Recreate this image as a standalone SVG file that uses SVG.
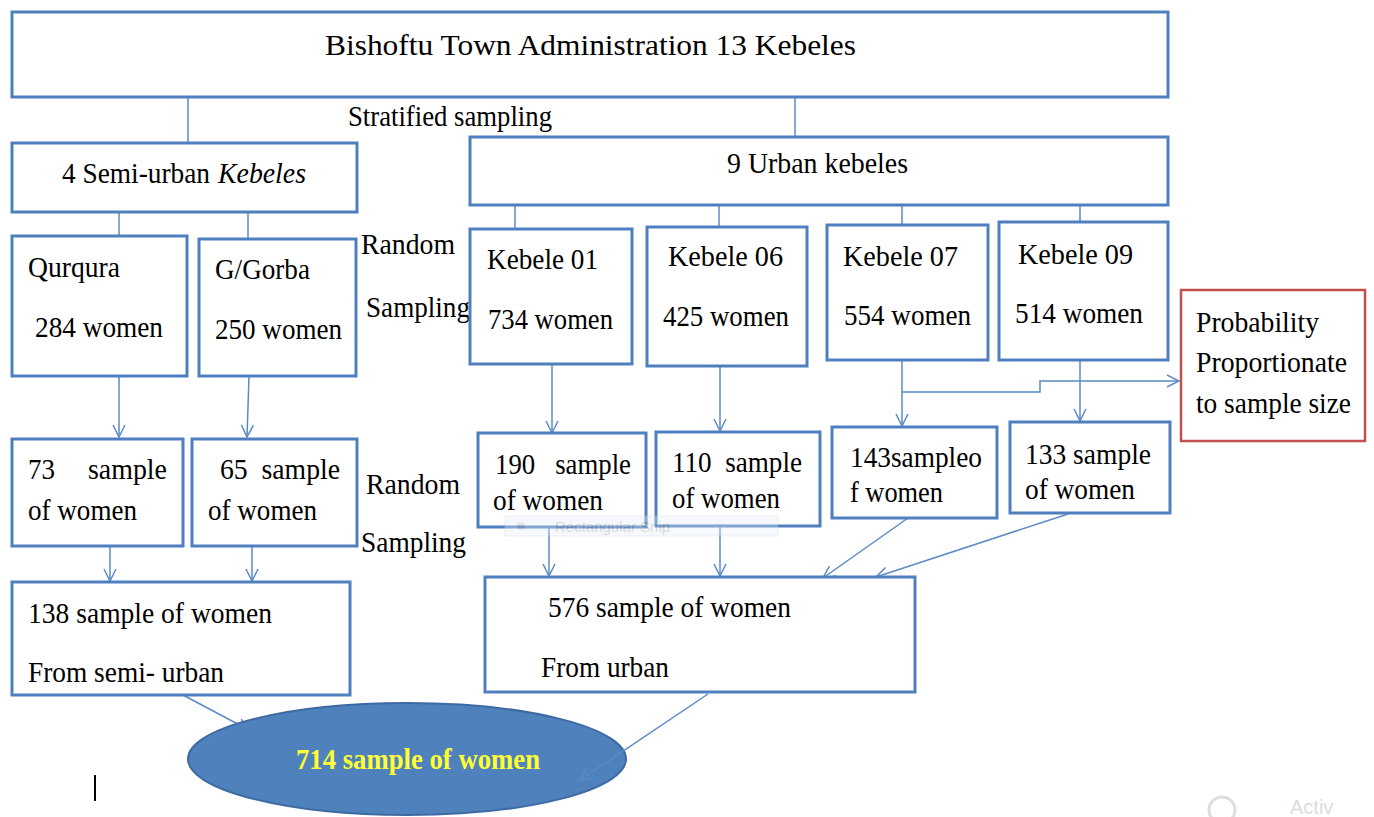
<svg xmlns="http://www.w3.org/2000/svg" width="1374" height="817" viewBox="0 0 1374 817">
<style>
.box{fill:#fff;stroke:#4f7fbf;stroke-width:3}
.red{fill:#fff;stroke:#c0504d;stroke-width:2.5}
.t{font-family:"Liberation Serif","Times New Roman",serif;font-size:30px;fill:#000}
.c{fill:none;stroke:#5b8ac6;stroke-width:1.5}
.el{fill:#4f81bd;stroke:#3d6aa3;stroke-width:2}
.y{font-family:"Liberation Serif","Times New Roman",serif;font-size:30px;font-weight:bold;fill:#ffff33}
</style>
<defs>
<marker id="arr" viewBox="0 0 14 14" refX="13" refY="7" markerWidth="14" markerHeight="14" markerUnits="userSpaceOnUse" orient="auto">
<path d="M1,1 L13,7 L1,13" fill="none" stroke="#5b8ac6" stroke-width="1.5"/>
</marker>
</defs>
<rect width="1374" height="817" fill="#fff"/>

<g id="connectors">
<line class="c" x1="188" y1="97" x2="188" y2="143"/>
<line class="c" x1="795" y1="97" x2="795" y2="137"/>
<line class="c" x1="119" y1="212" x2="119" y2="238"/>
<line class="c" x1="248" y1="212" x2="248" y2="240"/>
<line class="c" x1="515" y1="205" x2="515" y2="232"/>
<line class="c" x1="719" y1="205" x2="719" y2="230"/>
<line class="c" x1="902" y1="205" x2="902" y2="228"/>
<line class="c" x1="1080" y1="205" x2="1080" y2="226"/>
<line class="c" x1="119" y1="376" x2="119" y2="437" marker-end="url(#arr)"/>
<line class="c" x1="249" y1="376" x2="247" y2="437" marker-end="url(#arr)"/>
<line class="c" x1="552" y1="364" x2="552" y2="433" marker-end="url(#arr)"/>
<line class="c" x1="720" y1="366" x2="720" y2="431" marker-end="url(#arr)"/>
<line class="c" x1="902" y1="360" x2="902" y2="426" marker-end="url(#arr)"/>
<line class="c" x1="1080" y1="360" x2="1080" y2="421" marker-end="url(#arr)"/>
<polyline class="c" points="902,392 1040,392 1040,381 1179,381" marker-end="url(#arr)"/>
<line class="c" x1="110" y1="546" x2="110" y2="581" marker-end="url(#arr)"/>
<line class="c" x1="252" y1="546" x2="252" y2="581" marker-end="url(#arr)"/>
<line class="c" x1="549" y1="527" x2="549" y2="576" marker-end="url(#arr)"/>
<line class="c" x1="720" y1="526" x2="720" y2="576" marker-end="url(#arr)"/>
<line class="c" x1="908" y1="518" x2="823" y2="578" marker-end="url(#arr)"/>
<line class="c" x1="1068" y1="514" x2="876" y2="577" marker-end="url(#arr)"/>
<line class="c" x1="183" y1="695" x2="249" y2="730" marker-end="url(#arr)"/>
</g>

<g id="top"><rect class="box" x="12" y="12" width="1156" height="85"/>
<text class="t" x="325" y="55" textLength="531" lengthAdjust="spacingAndGlyphs">Bishoftu Town Administration 13 Kebeles</text></g>

<g id="lbl-stratified"><text class="t" x="348" y="126" textLength="204" lengthAdjust="spacingAndGlyphs">Stratified sampling</text></g>

<g id="semiurban"><rect class="box" x="12" y="143" width="345" height="69"/>
<text class="t" x="62" y="183" textLength="148" lengthAdjust="spacingAndGlyphs">4 Semi-urban</text>
<text class="t" x="218" y="183" font-style="italic" textLength="88" lengthAdjust="spacingAndGlyphs">Kebeles</text></g>

<g id="urban"><rect class="box" x="470" y="137" width="698" height="68"/>
<text class="t" x="727" y="173" textLength="181" lengthAdjust="spacingAndGlyphs">9 Urban kebeles</text></g>

<g id="qurqura"><rect class="box" x="12" y="236" width="175" height="140"/>
<text class="t" x="28" y="277" textLength="92" lengthAdjust="spacingAndGlyphs">Qurqura</text>
<text class="t" x="35" y="337" textLength="128" lengthAdjust="spacingAndGlyphs">284 women</text></g>

<g id="gorba"><rect class="box" x="199" y="239" width="157" height="137"/>
<text class="t" x="215" y="279" textLength="95" lengthAdjust="spacingAndGlyphs">G/Gorba</text>
<text class="t" x="215" y="339" textLength="127" lengthAdjust="spacingAndGlyphs">250 women</text></g>

<g id="lbl-random1">
<text class="t" x="361" y="254" textLength="94" lengthAdjust="spacingAndGlyphs">Random</text>
<text class="t" x="366" y="317" textLength="104" lengthAdjust="spacingAndGlyphs">Sampling</text></g>

<g id="k01"><rect class="box" x="470" y="229" width="162" height="135"/>
<text class="t" x="487" y="269" textLength="111" lengthAdjust="spacingAndGlyphs">Kebele 01</text>
<text class="t" x="488" y="329" textLength="125" lengthAdjust="spacingAndGlyphs">734 women</text></g>

<g id="k06"><rect class="box" x="647" y="227" width="160" height="139"/>
<text class="t" x="668" y="266" textLength="115" lengthAdjust="spacingAndGlyphs">Kebele 06</text>
<text class="t" x="663" y="326" textLength="126" lengthAdjust="spacingAndGlyphs">425 women</text></g>

<g id="k07"><rect class="box" x="827" y="225" width="161" height="135"/>
<text class="t" x="843" y="266" textLength="115" lengthAdjust="spacingAndGlyphs">Kebele 07</text>
<text class="t" x="844" y="325" textLength="127" lengthAdjust="spacingAndGlyphs">554 women</text></g>

<g id="k09"><rect class="box" x="999" y="222" width="169" height="138"/>
<text class="t" x="1018" y="264" textLength="115" lengthAdjust="spacingAndGlyphs">Kebele 09</text>
<text class="t" x="1015" y="323" textLength="128" lengthAdjust="spacingAndGlyphs">514 women</text></g>

<g id="pps"><rect class="red" x="1181" y="290" width="184" height="151"/>
<text class="t" x="1196" y="332" textLength="123" lengthAdjust="spacingAndGlyphs">Probability</text>
<text class="t" x="1196" y="372" textLength="151" lengthAdjust="spacingAndGlyphs">Proportionate</text>
<text class="t" x="1196" y="413" textLength="155" lengthAdjust="spacingAndGlyphs">to sample size</text></g>

<g id="s73"><rect class="box" x="12" y="439" width="171" height="107"/>
<text class="t" x="28" y="479" textLength="27" lengthAdjust="spacingAndGlyphs">73</text>
<text class="t" x="88" y="479" textLength="79" lengthAdjust="spacingAndGlyphs">sample</text>
<text class="t" x="28" y="520" textLength="109" lengthAdjust="spacingAndGlyphs">of women</text></g>

<g id="s65"><rect class="box" x="192" y="439" width="165" height="107"/>
<text class="t" x="220" y="479" textLength="120" lengthAdjust="spacingAndGlyphs" xml:space="preserve">65  sample</text>
<text class="t" x="208" y="520" textLength="109" lengthAdjust="spacingAndGlyphs">of women</text></g>

<g id="lbl-random2">
<text class="t" x="366" y="494" textLength="94" lengthAdjust="spacingAndGlyphs">Random</text>
<text class="t" x="361" y="552" textLength="105" lengthAdjust="spacingAndGlyphs">Sampling</text></g>

<g id="s190"><rect class="box" x="478" y="433" width="168" height="94"/>
<text class="t" x="495" y="474" textLength="136" lengthAdjust="spacingAndGlyphs" xml:space="preserve">190   sample</text>
<text class="t" x="493" y="510" textLength="110" lengthAdjust="spacingAndGlyphs">of women</text></g>

<g id="s110"><rect class="box" x="656" y="432" width="164" height="94"/>
<text class="t" x="672" y="472" textLength="130" lengthAdjust="spacingAndGlyphs" xml:space="preserve">110  sample</text>
<text class="t" x="672" y="508" textLength="108" lengthAdjust="spacingAndGlyphs">of women</text></g>

<g id="s143"><rect class="box" x="832" y="427" width="165" height="91"/>
<text class="t" x="850" y="467" textLength="132" lengthAdjust="spacingAndGlyphs">143sampleo</text>
<text class="t" x="850" y="502" textLength="93" lengthAdjust="spacingAndGlyphs">f women</text></g>

<g id="s133"><rect class="box" x="1010" y="422" width="160" height="91"/>
<text class="t" x="1025" y="464" textLength="126" lengthAdjust="spacingAndGlyphs">133 sample</text>
<text class="t" x="1025" y="499" textLength="110" lengthAdjust="spacingAndGlyphs">of women</text></g>

<g id="snip" opacity="0.35">
<rect x="505" y="516" width="273" height="20" fill="#e3ecf7" stroke="#c9d7ea" stroke-width="1"/>
<circle cx="521" cy="526" r="4" fill="#b8b8b8"/>
<text x="555" y="532" font-family="Liberation Sans, Arial, sans-serif" font-size="15" fill="#9a9a9a">Rectangular Snip</text>
</g>

<g id="s138"><rect class="box" x="12" y="582" width="338" height="113"/>
<text class="t" x="28" y="623" textLength="244" lengthAdjust="spacingAndGlyphs">138 sample of women</text>
<text class="t" x="28" y="682" textLength="196" lengthAdjust="spacingAndGlyphs">From semi- urban</text></g>

<g id="s576"><rect class="box" x="485" y="577" width="430" height="115"/>
<text class="t" x="548" y="617" textLength="243" lengthAdjust="spacingAndGlyphs">576 sample of women</text>
<text class="t" x="541" y="677" textLength="128" lengthAdjust="spacingAndGlyphs">From urban</text></g>

<g id="total"><ellipse class="el" cx="407" cy="759" rx="219" ry="56"/>
<text class="y" x="296" y="769" textLength="244" lengthAdjust="spacingAndGlyphs">714 sample of women</text></g>

<g id="connector-576">
<line class="c" x1="708" y1="694" x2="580" y2="780" marker-end="url(#arr)"/>
</g>

<line x1="95" y1="775" x2="95" y2="801" stroke="#000" stroke-width="2"/>
<g id="watermark" opacity="0.5">
<circle cx="1222" cy="810" r="13" fill="none" stroke="#bbb" stroke-width="3"/>
<text x="1290" y="814" font-family="Liberation Sans, Arial, sans-serif" font-size="20" fill="#bbb">Activ</text>
</g>
</svg>
